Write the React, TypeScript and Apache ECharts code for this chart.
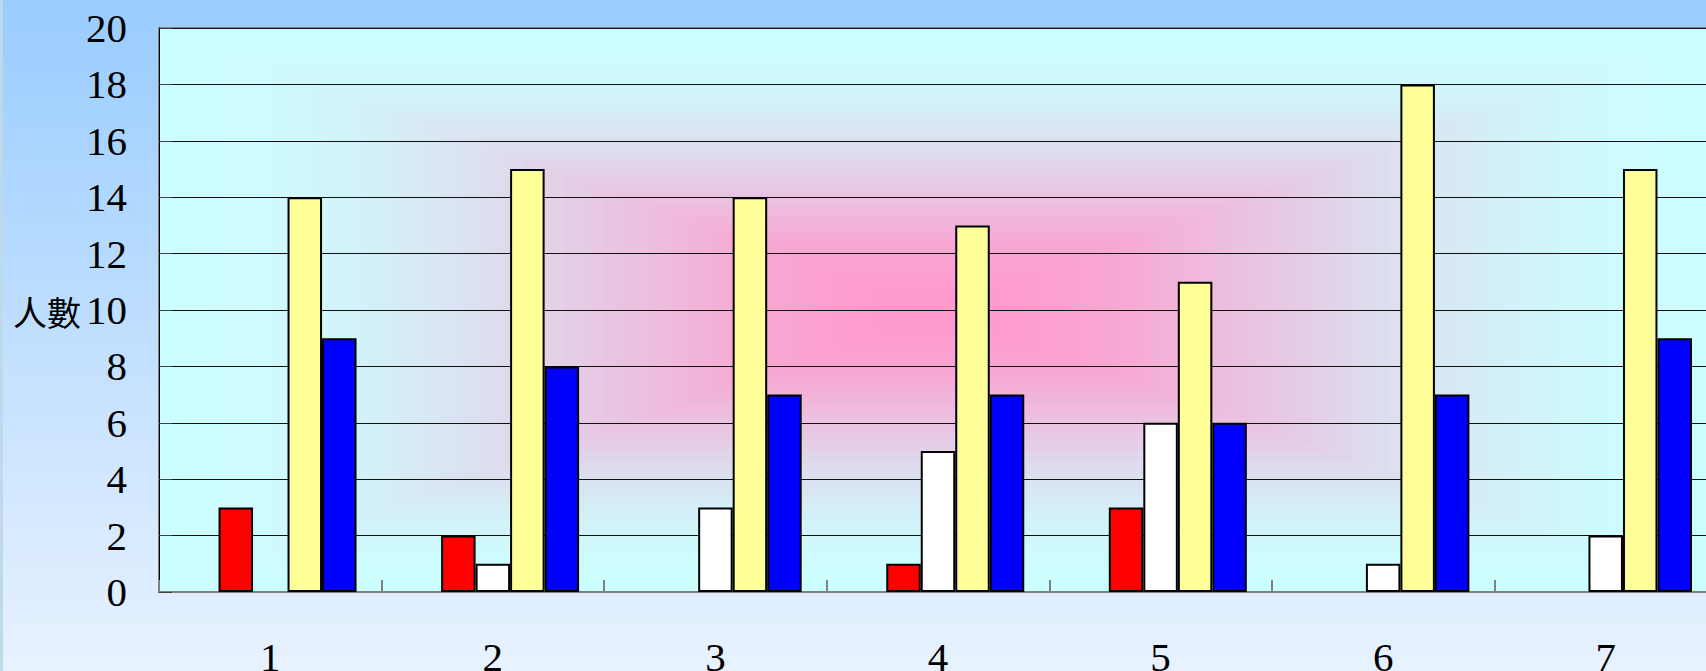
import React, { useEffect, useRef } from 'react';
import * as echarts from 'echarts';

// ---- data ----
const categories = ['1', '2', '3', '4', '5', '6', '7'];
const redValues = [3, 2, 0, 1, 3, 0, 0];
const whiteValues = [0, 1, 3, 5, 6, 1, 2];
const yellowValues = [14, 15, 14, 13, 11, 18, 15];
const blueValues = [9, 8, 7, 7, 6, 7, 9];
const yAxisName = '人數';

// ---- layout ----
const GRID = { left: 159, top: 28, width: 1558, height: 564 };
const SERIF = '"Liberation Serif", "Times New Roman", serif';

const PINK = [255, 153, 204];
const CYAN = [204, 255, 255];
const FADE: number[][] = [
  [0, 0], [0.1, 0.03], [0.24, 0.15], [0.39, 0.38], [0.58, 0.68], [0.72, 0.85], [0.85, 0.95], [1, 1],
];

function fade(t: number) {
  for (let i = 1; i < FADE.length; i++) {
    if (t <= FADE[i][0]) {
      const [t0, s0] = FADE[i - 1];
      const [t1, s1] = FADE[i];
      return s0 + ((t - t0) / (t1 - t0)) * (s1 - s0);
    }
  }
  return 1;
}

function backgroundRects() {
  const N = 100;
  const cx = GRID.left + GRID.width / 2;
  const cy = GRID.top + GRID.height / 2;
  const els: any[] = [];
  for (let i = 0; i < N; i++) {
    const t = 1 - i / N;
    const s = fade(t);
    const c = PINK.map((p, k) => Math.round(p + (CYAN[k] - p) * s));
    els.push({
      type: 'rect',
      silent: true,
      z: -10,
      z2: i,
      shape: { x: cx - (t * GRID.width) / 2, y: cy - (t * GRID.height) / 2, width: t * GRID.width, height: t * GRID.height },
      style: { fill: `rgb(${c[0]},${c[1]},${c[2]})` },
    });
  }
  return els;
}

function barData(values: number[]) {
  return values.map((v) => (v === 0 ? { value: 0, itemStyle: { borderWidth: 0 } } : v));
}

export default function App() {
  const ref = useRef<HTMLDivElement>(null);
  useEffect(() => {
    if (!ref.current) return;
    const chart = echarts.init(ref.current, undefined, { renderer: 'svg' });
    const barBase = {
      type: 'bar',
      barWidth: 34.5,
      barGap: '0%',
      itemStyle: { borderColor: '#000', borderWidth: 2 },
    };
    chart.setOption({
      animation: false,
      backgroundColor: {
        type: 'linear', x: 0, y: 0, x2: 0, y2: 1,
        colorStops: [
          { offset: 0, color: '#99CCFF' },
          { offset: 1, color: '#E8F2FF' },
        ],
      },
      graphic: {
        elements: [
          { type: 'rect', silent: true, z: -10, shape: { x: 0, y: 0, width: 3, height: 671 }, style: { fill: '#BDDAEA' } },
          ...backgroundRects(),
          {
            type: 'text',
            left: 13,
            top: 294,
            style: { text: yAxisName, font: '34px "Noto Sans CJK TC"', fill: '#000' },
          },
        ],
      },
      grid: {
        left: GRID.left, top: GRID.top, width: GRID.width, height: GRID.height,
        outerBoundsMode: 'none',
        containLabel: false,
        show: true, borderColor: '#808080', borderWidth: 2, backgroundColor: 'transparent',
      },
      xAxis: {
        type: 'category',
        data: categories,
        axisLine: { lineStyle: { color: '#808080', width: 2 } },
        axisTick: { show: true, inside: true, length: 12, alignWithLabel: false, lineStyle: { color: '#808080', width: 2 } },
        axisLabel: { fontFamily: SERIF, fontSize: 41, color: '#000', margin: 44 },
        splitLine: { show: false },
      },
      yAxis: {
        type: 'value',
        min: 0, max: 20, interval: 2,
        axisLine: { show: true, lineStyle: { color: '#000', width: 1 } },
        axisTick: { show: true, inside: true, length: 13, lineStyle: { color: '#404040' } },
        axisLabel: { fontFamily: SERIF, fontSize: 41, color: '#000', margin: 32 },
        splitLine: { show: true, lineStyle: { color: '#111', width: 1 } },
      },
      series: [
        { ...barBase, name: '', data: categories.map(() => '-') },
        { ...barBase, name: 'red', data: barData(redValues), itemStyle: { ...barBase.itemStyle, color: '#FF0000' } },
        { ...barBase, name: 'white', data: barData(whiteValues), itemStyle: { ...barBase.itemStyle, color: '#FFFFFF' } },
        { ...barBase, name: 'yellow', data: barData(yellowValues), itemStyle: { ...barBase.itemStyle, color: '#FFFF99' } },
        { ...barBase, name: 'blue', data: barData(blueValues), itemStyle: { ...barBase.itemStyle, color: '#0000FF' } },
      ],
    });
    return () => chart.dispose();
  }, []);
  return <div ref={ref} style={{ position: 'fixed', left: 0, top: 0, width: 1706, height: 671 }} />;
}
